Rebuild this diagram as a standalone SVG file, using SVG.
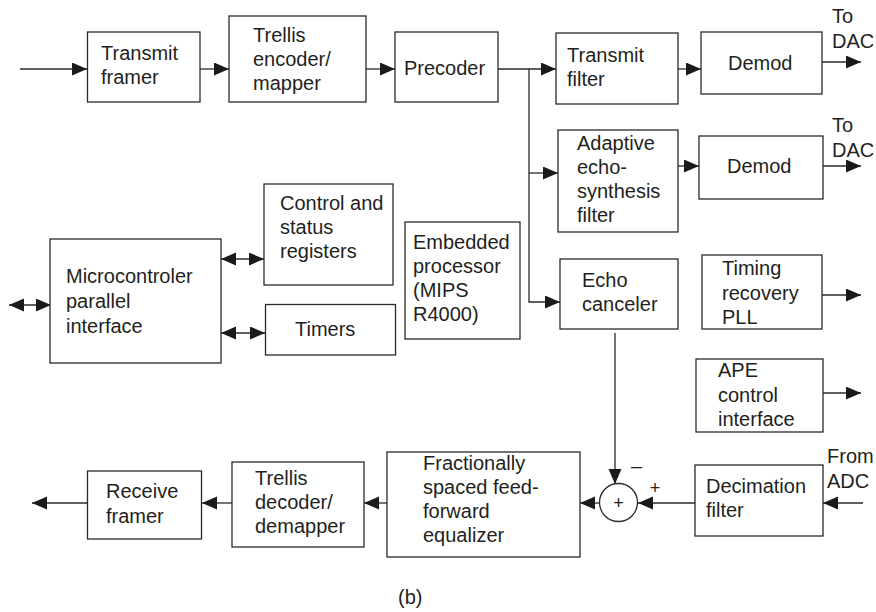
<svg xmlns="http://www.w3.org/2000/svg" width="876" height="612" viewBox="0 0 876 612">
<style>
.box{fill:#fff;stroke:#2a2a2a;stroke-width:1.3}
.ln{fill:none;stroke:#2a2a2a;stroke-width:1.3}
.arr{marker-end:url(#ah)}
.dbl{marker-start:url(#ah);marker-end:url(#ah)}
text{font-family:"Liberation Sans",Arial,sans-serif;font-size:20px;fill:#231f20}
.sm{font-size:18px}
</style>
<defs>
<marker id="ah" markerUnits="userSpaceOnUse" markerWidth="16" markerHeight="14" refX="15" refY="6.5" orient="auto-start-reverse">
<path d="M0,0 L15,6.5 L0,13 z" fill="#1a1a1a"/>
</marker>
</defs>
<rect width="876" height="612" fill="#fff"/>
<g id="connectors">
<line class="ln arr" x1="20" y1="69" x2="87" y2="69"/>
<line class="ln arr" x1="200" y1="69" x2="229" y2="69"/>
<line class="ln arr" x1="366" y1="69" x2="395" y2="69"/>
<line class="ln arr" x1="498" y1="69" x2="556" y2="69"/>
<polyline class="ln arr" points="529,69 529,302 560,302"/>
<line class="ln arr" x1="529" y1="173" x2="558" y2="173"/>
<line class="ln arr" x1="678" y1="69" x2="701" y2="69"/>
<line class="ln arr" x1="822" y1="62" x2="861" y2="62"/>
<line class="ln arr" x1="678" y1="166" x2="699" y2="166"/>
<line class="ln arr" x1="823" y1="166" x2="861" y2="166"/>
<line class="ln dbl" x1="9" y1="305" x2="51" y2="305"/>
<line class="ln dbl" x1="221" y1="259" x2="264" y2="259"/>
<line class="ln dbl" x1="221" y1="333" x2="265" y2="333"/>
<line class="ln arr" x1="822" y1="295" x2="861" y2="295"/>
<line class="ln arr" x1="823" y1="393" x2="861" y2="393"/>
<line class="ln arr" x1="615" y1="333" x2="615" y2="484"/>
<line class="ln arr" x1="695" y1="503" x2="638" y2="503"/>
<line class="ln arr" x1="863" y1="503" x2="823" y2="503"/>
<line class="ln arr" x1="599" y1="503" x2="580" y2="503"/>
<line class="ln arr" x1="387" y1="503" x2="364" y2="503"/>
<line class="ln arr" x1="232" y1="503" x2="202" y2="503"/>
<line class="ln arr" x1="87" y1="503" x2="32" y2="503"/>
</g>
<g id="transmit-framer"><rect class="box" x="87.5" y="32" width="112.5" height="70"/><text x="101" y="60">Transmit</text><text x="101" y="84">framer</text></g>
<g id="trellis-encoder"><rect class="box" x="229" y="16" width="137" height="86"/><text x="253" y="42">Trellis</text><text x="253" y="66">encoder/</text><text x="253" y="90">mapper</text></g>
<g id="precoder"><rect class="box" x="395" y="32" width="103" height="70"/><text x="404" y="75">Precoder</text></g>
<g id="transmit-filter"><rect class="box" x="556" y="33" width="122" height="71"/><text x="567" y="62">Transmit</text><text x="567" y="86">filter</text></g>
<g id="demod1"><rect class="box" x="701" y="32" width="121" height="62"/><text x="728" y="70">Demod</text></g>
<g id="to-dac1"><text x="832" y="23">To</text><text x="832" y="48">DAC</text></g>
<g id="adaptive-echo"><rect class="box" x="558" y="130" width="120" height="102"/><text x="577" y="150">Adaptive</text><text x="577" y="174">echo-</text><text x="577" y="198">synthesis</text><text x="577" y="222">filter</text></g>
<g id="demod2"><rect class="box" x="699" y="136" width="124" height="63"/><text x="727" y="173">Demod</text></g>
<g id="to-dac2"><text x="832" y="132">To</text><text x="832" y="157">DAC</text></g>
<g id="control-status"><rect class="box" x="264" y="184" width="129" height="101"/><text x="280" y="210">Control and</text><text x="280" y="234">status</text><text x="280" y="258">registers</text></g>
<g id="microcontroler"><rect class="box" x="50" y="239" width="171" height="124"/><text x="66" y="283">Microcontroler</text><text x="66" y="308">parallel</text><text x="66" y="333">interface</text></g>
<g id="timers"><rect class="box" x="265.5" y="304.5" width="130" height="50.5"/><text x="295" y="336">Timers</text></g>
<g id="embedded"><rect class="box" x="405" y="222" width="115" height="117"/><text x="413" y="249">Embedded</text><text x="413" y="273">processor</text><text x="413" y="297">(MIPS</text><text x="413" y="321">R4000)</text></g>
<g id="echo-canceler"><rect class="box" x="560" y="259" width="118" height="70"/><text x="582" y="287">Echo</text><text x="582" y="311">canceler</text></g>
<g id="timing-recovery"><rect class="box" x="702" y="255" width="120" height="74"/><text x="722" y="275">Timing</text><text x="722" y="300">recovery</text><text x="722" y="324">PLL</text></g>
<g id="ape-control"><rect class="box" x="696" y="359" width="127" height="73"/><text x="718" y="377">APE</text><text x="718" y="402">control</text><text x="718" y="426">interface</text></g>
<g id="receive-framer"><rect class="box" x="87.5" y="471" width="114" height="68"/><text x="106" y="498">Receive</text><text x="106" y="523">framer</text></g>
<g id="trellis-decoder"><rect class="box" x="232" y="462" width="132" height="85"/><text x="255" y="485">Trellis</text><text x="255" y="509">decoder/</text><text x="255" y="533">demapper</text></g>
<g id="equalizer"><rect class="box" x="387" y="452" width="193" height="105"/><text x="423" y="470">Fractionally</text><text x="423" y="494">spaced feed-</text><text x="423" y="518">forward</text><text x="423" y="542">equalizer</text></g>
<g id="sum"><circle class="box" cx="618.5" cy="502.5" r="19"/><text class="sm" x="618.5" y="509" text-anchor="middle">+</text><text x="631" y="473">–</text><text class="sm" x="655" y="494" text-anchor="middle">+</text></g>
<g id="decimation"><rect class="box" x="695" y="465" width="128" height="71"/><text x="706" y="493">Decimation</text><text x="706" y="517">filter</text></g>
<g id="from-adc"><text x="827" y="463">From</text><text x="827" y="488">ADC</text></g>
<text x="398" y="604">(b)</text>
</svg>
